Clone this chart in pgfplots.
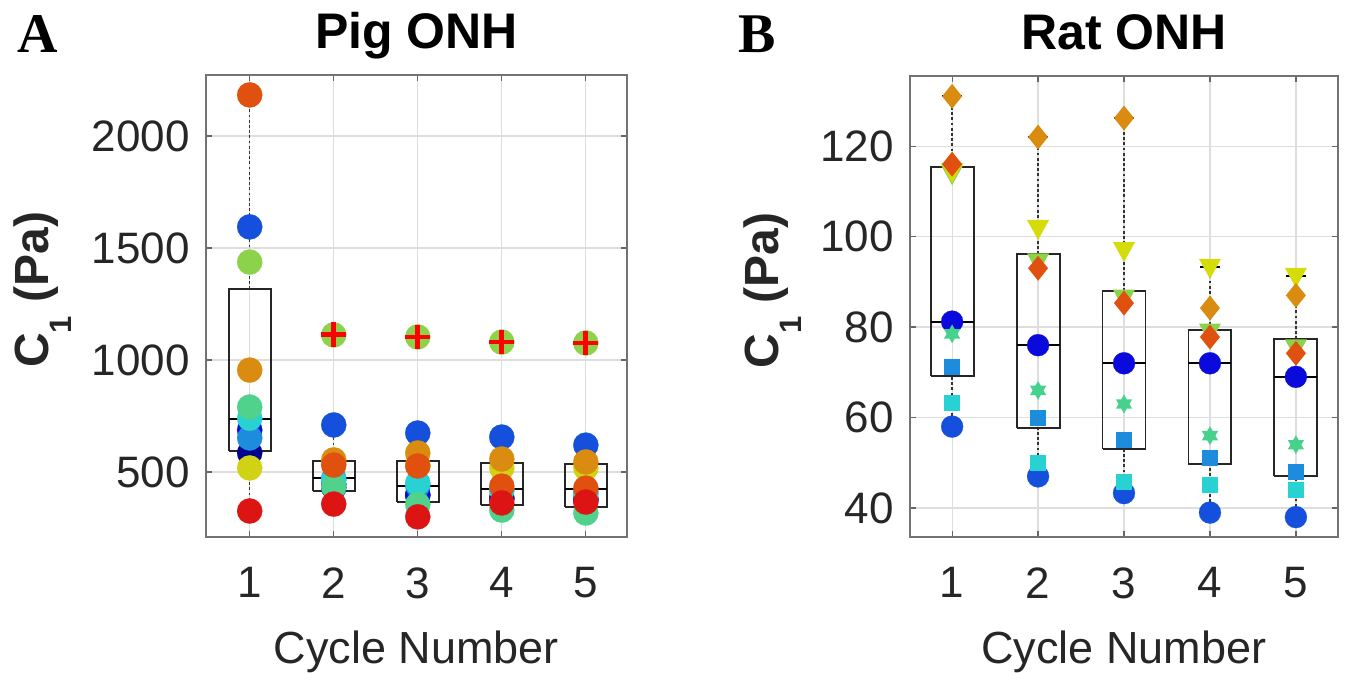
\documentclass[border=0pt]{standalone}
\usepackage{pgfplots}
\pgfplotsset{compat=1.18}
\usepackage{fontspec}
\setmainfont{Liberation Sans}
\newfontfamily\panelfont{Liberation Serif}

\definecolor{lab}{HTML}{262626}
\definecolor{cnavy}{HTML}{00008F}
\definecolor{cdblue}{HTML}{0A0ADC}
\definecolor{cblue}{HTML}{1450DC}
\definecolor{clblue}{HTML}{1E8CDC}
\definecolor{ccyan}{HTML}{28D2D2}
\definecolor{cteal}{HTML}{50D28C}
\definecolor{cstar}{HTML}{46D28C}
\definecolor{clgreen}{HTML}{8CD24B}
\definecolor{cyellow}{HTML}{D2D214}
\definecolor{cytri}{HTML}{D4DC0A}
\definecolor{corange}{HTML}{D98C0F}
\definecolor{credor}{HTML}{E0500F}
\definecolor{cred}{HTML}{DC1414}

% marks
\pgfdeclareplotmark{dmd}{%
  \pgfpathmoveto{\pgfqpoint{0pt}{1.25\pgfplotmarksize}}%
  \pgfpathlineto{\pgfqpoint{\pgfplotmarksize}{0pt}}%
  \pgfpathlineto{\pgfqpoint{0pt}{-1.25\pgfplotmarksize}}%
  \pgfpathlineto{\pgfqpoint{-\pgfplotmarksize}{0pt}}%
  \pgfpathclose\pgfusepathqfill}
\pgfdeclareplotmark{tdown}{%
  \pgfpathmoveto{\pgfqpoint{-1.1\pgfplotmarksize}{0.8\pgfplotmarksize}}%
  \pgfpathlineto{\pgfqpoint{1.1\pgfplotmarksize}{0.8\pgfplotmarksize}}%
  \pgfpathlineto{\pgfqpoint{0pt}{-1.2\pgfplotmarksize}}%
  \pgfpathclose\pgfusepathqfill}
\pgfdeclareplotmark{hexa}{%
  \pgfpathmoveto{\pgfqpoint{0pt}{\pgfplotmarksize}}%
  \pgfpathlineto{\pgfqpoint{-0.866\pgfplotmarksize}{-0.5\pgfplotmarksize}}%
  \pgfpathlineto{\pgfqpoint{0.866\pgfplotmarksize}{-0.5\pgfplotmarksize}}%
  \pgfpathclose
  \pgfpathmoveto{\pgfqpoint{0pt}{-\pgfplotmarksize}}%
  \pgfpathlineto{\pgfqpoint{0.866\pgfplotmarksize}{0.5\pgfplotmarksize}}%
  \pgfpathlineto{\pgfqpoint{-0.866\pgfplotmarksize}{0.5\pgfplotmarksize}}%
  \pgfpathclose\pgfusepathqfill}
\pgfdeclareplotmark{sq}{%
  \pgfpathrectangle{\pgfqpoint{-\pgfplotmarksize}{-\pgfplotmarksize}}{\pgfqpoint{2\pgfplotmarksize}{2\pgfplotmarksize}}%
  \pgfusepathqfill}

\pgfplotsset{
  panel/.style={
    scale only axis, anchor=south west,
    xtick={1,2,3,4,5},
    axis line style={black!55, line width=0.7pt},
    tick style={black!60, line width=0.6pt},
    major tick length=3pt, tick align=inside,
    grid=major, major grid style={black!13, line width=0.6pt},
    tick label style={font=\fontsize{22}{24}\selectfont, text=lab, inner sep=0pt},
    /pgf/number format/assume math mode=true,
    /pgf/number format/1000 sep={},
    scaled y ticks=false,
    xticklabel style={yshift=-15pt},
    yticklabel style={xshift=-8pt},
    title style={at={(axis description cs:0.5,1)}, anchor=base, yshift=7pt,
      font=\bfseries\fontsize{25}{28}\selectfont, inner sep=0pt},
    xlabel style={at={(axis description cs:0.5,0)}, anchor=north, yshift=-46.5pt,
      inner sep=0pt, font=\fontsize{22.5}{25}\selectfont, text=lab},
    ylabel style={anchor=base, inner sep=0pt,
      font=\bfseries\fontsize{24}{27}\selectfont, text=lab},
  },
  pp/.style={only marks, mark=*, mark size=6.3pt, color=#1,
    mark options={fill=#1, draw=#1, line width=0.1pt}},
  rr/.style 2 args={only marks, mark=#2, color=#1,
    mark options={fill=#1, draw=#1, line width=0.1pt}},
  whisk/.style={black!80, line width=0.65pt, dash pattern=on 1.4pt off 1.2pt, no markers},
  cap/.style={black, line width=0.9pt, no markers},
  bx/.style={black!85, line width=0.95pt, no markers, line join=miter},
}

% box: x, lower whisker, q1, median, q3, upper whisker
\newcommand\bxp[6]{%
  \pgfmathsetmacro\xa{#1-0.25}\pgfmathsetmacro\xb{#1+0.25}%
  \pgfmathsetmacro\ca{#1-0.12}\pgfmathsetmacro\cb{#1+0.12}%
  \edef\tmp{%
    \noexpand\addplot[whisk] coordinates {(#1,#2) (#1,#3)};
    \noexpand\addplot[whisk] coordinates {(#1,#5) (#1,#6)};
    \noexpand\addplot[cap] coordinates {(\ca,#2) (\cb,#2)};
    \noexpand\addplot[cap] coordinates {(\ca,#6) (\cb,#6)};
    \noexpand\addplot[bx] coordinates {(\xa,#3) (\xb,#3) (\xb,#5) (\xa,#5) (\xa,#3)};
    \noexpand\addplot[cap] coordinates {(\xa,#4) (\xb,#4)};
  }\tmp}

\begin{document}
\begin{tikzpicture}
\path[use as bounding box] (0,0) rectangle (673.5pt,336.5pt);

\node[font=\panelfont\bfseries\fontsize{28}{30}\selectfont, anchor=base] at (18.75pt,310pt) {A};
\node[font=\panelfont\bfseries\fontsize{28}{30}\selectfont, anchor=base] at (378.5pt,310pt) {B};

% ---------- Pig ONH ----------
\begin{axis}[panel, at={(103pt,68pt)}, width=210.5pt, height=231pt,
  xmin=0.48, xmax=5.49, ymin=210, ymax=2272,
  ytick={500,1000,1500,2000},
  title={Pig ONH}, xlabel={Cycle Number},
  ylabel={C\raisebox{-11.5pt}{\fontsize{15.5}{16}\selectfont 1} (Pa)},
  ylabel style={at={(axis description cs:-0.375,0.535)}},
]
\addplot[pp=cnavy]   coordinates {(1,585) (2,430) (3,395) (4,380) (5,375)};
\addplot[pp=cdblue]  coordinates {(1,687) (2,445) (3,400) (4,385) (5,380)};
\addplot[pp=cblue]   coordinates {(1,1594) (2,710) (3,674) (4,656) (5,620)};
\addplot[pp=clblue]  coordinates {(1,652) (2,470) (3,440) (4,420) (5,410)};
\addplot[pp=ccyan]   coordinates {(1,740) (2,464) (3,451) (4,420) (5,400)};
\addplot[pp=cteal]   coordinates {(1,790) (2,433) (3,355) (4,330) (5,317)};
\addplot[pp=clgreen] coordinates {(1,1437) (2,1112) (3,1103) (4,1080) (5,1076)};
\addplot[pp=cyellow] coordinates {(1,518) (2,540) (3,530) (4,518) (5,518)};
\addplot[pp=corange] coordinates {(1,955) (2,554) (3,585) (4,558) (5,545)};
\addplot[pp=credor]  coordinates {(1,2183) (2,531) (3,527) (4,437) (5,428)};
\addplot[pp=cred]    coordinates {(1,326) (2,357) (3,300) (4,362) (5,366)};
% outliers
\addplot[only marks, mark=+, mark size=6.2pt, color=red, mark options={line width=2.4pt}]
  coordinates {(2,1112) (3,1103) (4,1080) (5,1076)};
\bxp{1}{326}{594}{736}{1317}{2183}
\bxp{2}{357}{415}{473}{549}{710}
\bxp{3}{300}{366}{437}{549}{674}
\bxp{4}{330}{352}{424}{540}{656}
\bxp{5}{317}{344}{424}{536}{620}
\end{axis}

% ---------- Rat ONH ----------
\begin{axis}[panel, at={(455pt,68pt)}, width=214pt, height=230.5pt,
  xmin=0.51, xmax=5.49, ymin=33.6, ymax=135.5,
  ytick={40,60,80,100,120},
  title={Rat ONH}, xlabel={Cycle Number},
  ylabel={C\raisebox{-11.5pt}{\fontsize{15.5}{16}\selectfont 1} (Pa)},
  ylabel style={at={(axis description cs:-0.308,0.535)}},
]
\addplot[rr={cblue}{*}, mark size=5.5pt]     coordinates {(1,58) (2,47) (3,43.3) (4,39) (5,38)};
\addplot[rr={cdblue}{*}, mark size=5.5pt]    coordinates {(1,81.2) (2,76) (3,72) (4,72) (5,69)};
\addplot[rr={clblue}{sq}, mark size=4pt]     coordinates {(1,71.2) (2,60) (3,55) (4,51) (5,48)};
\addplot[rr={ccyan}{sq}, mark size=4pt]      coordinates {(1,63.2) (2,50) (3,45.8) (4,45) (5,44)};
\addplot[rr={cstar}{hexa}, mark size=4.7pt]  coordinates {(1,78.5) (2,66) (3,63) (4,56) (5,54)};
\addplot[rr={clgreen}{tdown}, mark size=5pt] coordinates {(1,114) (2,94.5) (3,86.5) (4,79) (5,75.5)};
\addplot[rr={cytri}{tdown}, mark size=5pt]   coordinates {(1,114.5) (2,101.9) (3,97) (4,93.3) (5,91.3)};
\addplot[rr={corange}{dmd}, mark size=5pt]   coordinates {(1,131) (2,122) (3,126.2) (4,84.2) (5,87)};
\addplot[rr={credor}{dmd}, mark size=5pt]    coordinates {(1,116) (2,93) (3,85.3) (4,77.8) (5,74.2)};
\bxp{1}{58}{69.2}{81.1}{115.4}{131}
\bxp{2}{47}{57.7}{76}{96.1}{122}
\bxp{3}{43.3}{53}{72}{88}{126.2}
\bxp{4}{39}{49.7}{72}{79.3}{93.3}
\bxp{5}{38}{47}{69}{77.3}{91.3}
\end{axis}
\end{tikzpicture}
\end{document}
